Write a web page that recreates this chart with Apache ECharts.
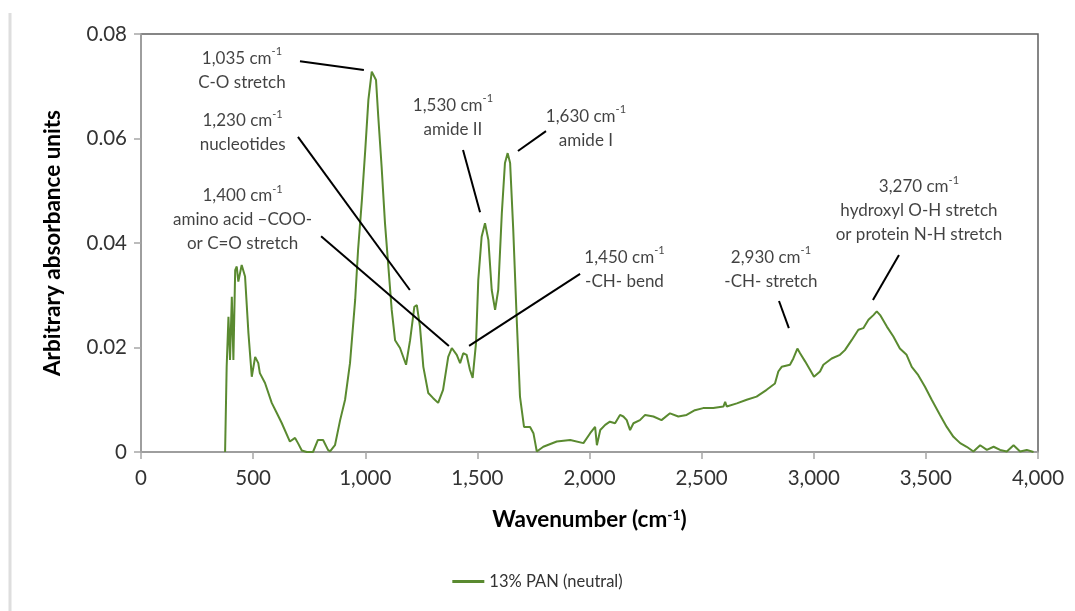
<!DOCTYPE html>
<html><head><meta charset="utf-8">
<script src="https://cdn.jsdelivr.net/npm/echarts@6/dist/echarts.min.js"></script>
<style>html,body{margin:0;padding:0;background:#fff}#c{width:1075px;height:611px}</style>
</head><body><div id="c"></div>
<script>
// ---- data ----
const wavenumber = [375,382,390,397,405,412,420,427,434,449,464,479,494,509,523,530,553,583,605,627,664,687,700,717,739,767,789,812,834,
  843,865,888,910,932,955,968,985,1000,1014,1029,1036,1048,1058,1073,1088,1103,1118,1133,1155,1182,1200,1219,1230,1244,1259,1281,1303,1325,1347,1370,1386,1408,1423,1437,1452,1467,1479,1494,1504,1519,1534,1549,1564,1579,1593,1609,1623,1635,1646,1660,1675,1690,1708,1735,1750,1765,1794,1854,1914,1973,
  2003,2025,2033,2048,2070,2091,2114,2136,2151,2166,2181,2196,2225,2248,2285,2321,2359,2396,2433,2470,2507,2552,2597,2605,2612,2657,2701,2745,2790,2827,2842,2857,2894,2909,2927,2939,2962,2984,3001,3028,3043,3080,3117,3139,3169,3199,3221,3244,3266,3281,3296,3326,3355,3384,3414,3437,3466,3496,3526,3563,3593,3623,3653,3682,3712,3742,3772,3802,3831,3861,3891,3920,3950,3980];
const absorbance = [0,0.0163,0.0259,0.0176,0.0297,0.0176,0.0348,0.0355,0.0326,0.0358,0.0336,0.0228,0.0144,0.0182,0.0170,0.0151,0.0132,0.0094,0.0075,0.0056,0.0020,0.0027,0.0017,0.0003,0,0,0.0023,0.0023,0.0004,
  0.0001,0.0013,0.0061,0.0100,0.0170,0.0291,0.0387,0.0482,0.0578,0.0674,0.0728,0.0731,0.0712,0.0642,0.0546,0.0438,0.0355,0.0272,0.0214,0.0199,0.0167,0.0214,0.0278,0.0281,0.0240,0.0163,0.0113,0.0103,0.0094,0.0119,0.0182,0.0199,0.0186,0.0170,0.0189,0.0186,0.0157,0.0142,0.0209,0.0329,0.0412,0.0438,0.0406,0.0310,0.0272,0.0310,0.0457,0.0553,0.0572,0.0553,0.0425,0.0259,0.0106,0.0048,0.0048,0.0036,0.0001,0.0010,0.0020,0.0023,0.0017,
  0.0036,0.0048,0.0013,0.0042,0.0052,0.0058,0.0055,0.0071,0.0068,0.0061,0.0042,0.0055,0.0061,0.0071,0.0068,0.0061,0.0074,0.0068,0.0071,0.0080,0.0084,0.0084,0.0087,0.0096,0.0087,0.0093,0.0100,0.0106,0.0119,0.0131,0.0154,0.0163,0.0167,0.0179,0.0198,0.0189,0.0173,0.0157,0.0144,0.0154,0.0167,0.0179,0.0186,0.0195,0.0214,0.0234,0.0237,0.0253,0.0262,0.0269,0.0262,0.0240,0.0221,0.0198,0.0186,0.0163,0.0147,0.0125,0.0100,0.0071,0.0048,0.0029,0.0017,0.0010,0.0001,0.0013,0.0004,0.0010,0.0004,0.0001,0.0013,0.0001,0.0004,0];
const seriesName = '13% PAN (neutral)';
const xTitle = 'Wavenumber (cm';
const yTitle = 'Arbitrary absorbance units';

// annotations: peak label, note lines, label anchor (data coords), leader line ends (data coords)
const annotationPeaks = ['1,035','1,230','1,400','1,530','1,630','1,450','2,930','3,270'];
const annotationNotes = [['C-O stretch'],['nucleotides'],['amino acid \u2013COO-','or C=O stretch'],['amide II'],['amide I'],['-CH- bend'],['-CH- stretch'],['hydroxyl O-H stretch','or protein N-H stretch']];
const annotationTextAt = [[450,0.0731],[453,0.0611],[453,0.0444],[1391,0.0641],[1984,0.0620],[2156,0.0350],[2809,0.0350],[3469,0.0462]];
const annotationLineFrom = [[709,0.0748],[700,0.0603],[803,0.0413],[1436,0.0578],[1806,0.0614],[1958,0.0341],[2845,0.0289],[3380,0.0377]];
const annotationLineTo = [[994,0.0731],[1199,0.0310],[1373,0.0203],[1512,0.0459],[1681,0.0576],[1463,0.0203],[2889,0.0237],[3264,0.0291]];

// ---- chart ----
const FONT = 'Lato';
const chart = echarts.init(document.getElementById('c'), null, {renderer: 'canvas'});
const spectrum = wavenumber.map((w, i) => [w, absorbance[i]]);
const labelData = annotationTextAt.map((p, i) => ({value: [p[0], p[1]], idx: i}));
const leader = annotationLineFrom.map((f, i) => [{coord: f}, {coord: annotationLineTo[i]}]);

chart.setOption({
  animation: false,
  backgroundColor: '#ffffff',
  grid: {left: 141, right: 37, top: 34, bottom: 159, show: true, borderColor: '#5f5f5f', borderWidth: 1.5, backgroundColor: 'transparent'},
  graphic: [{type: 'line', shape: {x1: 10, y1: 13, x2: 10, y2: 611}, style: {stroke: '#dedede', lineWidth: 3}}],
  legend: {
    data: [seriesName], left: 'center', top: 568, icon: 'rect', itemWidth: 32, itemHeight: 3, itemGap: 6,
    textStyle: {fontFamily: FONT, fontSize: 16.5, color: '#333'}
  },
  xAxis: {
    type: 'value', min: 0, max: 4000, interval: 500,
    axisLine: {show: true, lineStyle: {color: '#a6a6a6', width: 1.5}},
    axisTick: {show: true, inside: false, length: 7, lineStyle: {color: '#a6a6a6', width: 1.5}},
    splitLine: {show: false},
    axisLabel: {fontFamily: FONT, fontSize: 20.5, color: '#333', margin: 16,
      formatter: v => v.toLocaleString('en-US')},
    name: xTitle, nameLocation: 'middle', nameGap: 56,
    nameTextStyle: {fontFamily: FONT, fontSize: 22.5, fontWeight: 'bold', color: '#000',
      rich: {b: {fontFamily: FONT, fontSize: 22.5, fontWeight: 'bold', color: '#000'},
             s: {fontFamily: FONT, fontSize: 14, fontWeight: 'bold', color: '#000', verticalAlign: 'top', lineHeight: 14}}}
  },
  yAxis: {
    type: 'value', min: 0, max: 0.08, interval: 0.02,
    axisLine: {show: true, lineStyle: {color: '#a6a6a6', width: 1.5}},
    axisTick: {show: true, inside: false, length: 7, lineStyle: {color: '#a6a6a6', width: 1.5}},
    splitLine: {show: false},
    axisLabel: {fontFamily: FONT, fontSize: 20.5, color: '#333', margin: 14,
      formatter: v => v === 0 ? '0' : v.toFixed(2)},
    name: yTitle, nameLocation: 'middle', nameGap: 77,
    nameTextStyle: {fontFamily: FONT, fontSize: 22.5, fontWeight: 'bold', color: '#000'}
  },
  series: [
    {
      name: seriesName, type: 'line', data: spectrum, showSymbol: false, symbol: 'none',
      lineStyle: {color: '#5a8a30', width: 2}, itemStyle: {color: '#5a8a30'},
      z: 3,
      markLine: {
        silent: true, symbol: ['none', 'none'], animation: false,
        label: {show: false},
        lineStyle: {color: '#000', width: 2, type: 'solid'},
        emphasis: {disabled: true},
        data: leader
      }
    },
    {
      name: 'annotations', type: 'scatter', data: labelData, symbolSize: 1,
      itemStyle: {color: 'rgba(0,0,0,0)'}, silent: true, z: 5,
      label: {
        show: true, position: 'inside', align: 'center', verticalAlign: 'middle',
        formatter: p => {
          const i = p.data.idx;
          const lines = ['{n|' + annotationPeaks[i] + ' cm}{s|-1}'];
          annotationNotes[i].forEach(t => lines.push('{n|' + t + '}'));
          return lines.join('\n');
        },
        rich: {
          n: {fontFamily: FONT, fontSize: 17, color: '#111', lineHeight: 24},
          s: {fontFamily: FONT, fontSize: 11, color: '#111', lineHeight: 12, verticalAlign: 'top'}
        }
      }
    }
  ]
});
// superscript on x-axis title
chart.setOption({xAxis: {name: '{b|' + xTitle + '}{s|-1}{b|)}'}});
</script>
</body></html>
